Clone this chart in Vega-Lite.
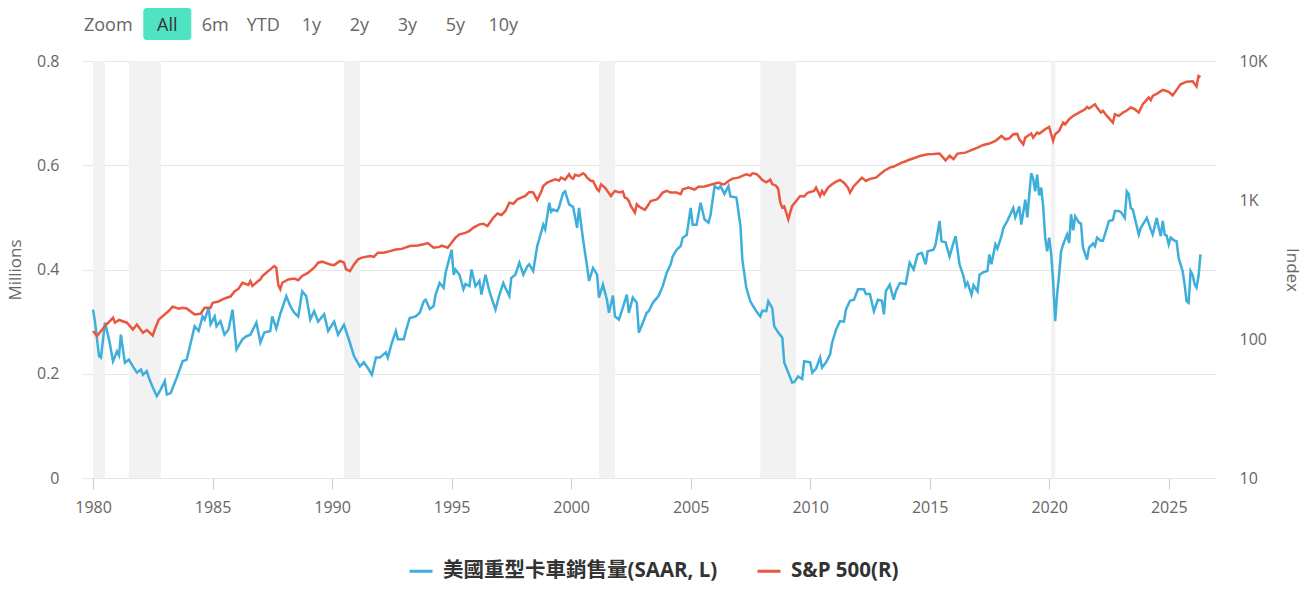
{
  "$schema": "https://vega.github.io/schema/vega-lite/v6.json",
  "background": "white",
  "padding": {"top": 8, "left": 6, "right": 10, "bottom": 10},
  "bounds": "flush",
  "spacing": 21,
  "datasets": {
    "btn": [
      {"b": "Zoom"}, {"b": "All"}, {"b": "6m"}, {"b": "YTD"}, {"b": "1y"},
      {"b": "2y"}, {"b": "3y"}, {"b": "5y"}, {"b": "10y"}
    ],
    "recess": [
      {"d": "1980-01", "e": "1980-07"},
      {"d": "1981-07", "e": "1982-11"},
      {"d": "1990-07", "e": "1991-03"},
      {"d": "2001-03", "e": "2001-11"},
      {"d": "2007-12", "e": "2009-06"},
      {"d": "2020-02", "e": "2020-04"}
    ],
    "truck": [
      {"d":"1980-01","v":0.323},{"d":"1980-02","v":0.298},{"d":"1980-04","v":0.234},{"d":"1980-05","v":0.231},
      {"d":"1980-07","v":0.298},{"d":"1980-09","v":0.266},{"d":"1980-11","v":0.224},{"d":"1981-01","v":0.243},
      {"d":"1981-02","v":0.235},{"d":"1981-03","v":0.275},{"d":"1981-05","v":0.221},{"d":"1981-07","v":0.227},
      {"d":"1981-09","v":0.214},{"d":"1981-11","v":0.202},{"d":"1982-01","v":0.208},{"d":"1982-02","v":0.198},
      {"d":"1982-04","v":0.205},{"d":"1982-05","v":0.193},{"d":"1982-07","v":0.174},{"d":"1982-09","v":0.157},
      {"d":"1982-11","v":0.170},{"d":"1983-01","v":0.186},{"d":"1983-02","v":0.160},{"d":"1983-04","v":0.163},
      {"d":"1983-07","v":0.192},{"d":"1983-10","v":0.224},{"d":"1983-12","v":0.227},{"d":"1984-02","v":0.259},
      {"d":"1984-04","v":0.291},{"d":"1984-06","v":0.282},{"d":"1984-08","v":0.310},{"d":"1984-09","v":0.304},
      {"d":"1984-11","v":0.327},{"d":"1984-12","v":0.295},{"d":"1985-02","v":0.310},{"d":"1985-03","v":0.291},
      {"d":"1985-05","v":0.301},{"d":"1985-07","v":0.275},{"d":"1985-09","v":0.285},{"d":"1985-11","v":0.323},
      {"d":"1986-01","v":0.247},{"d":"1986-04","v":0.266},{"d":"1986-06","v":0.272},{"d":"1986-08","v":0.275},
      {"d":"1986-11","v":0.298},{"d":"1987-01","v":0.260},{"d":"1987-03","v":0.279},{"d":"1987-06","v":0.282},
      {"d":"1987-07","v":0.310},{"d":"1987-09","v":0.287},{"d":"1987-11","v":0.315},{"d":"1988-02","v":0.349},
      {"d":"1988-04","v":0.330},{"d":"1988-06","v":0.317},{"d":"1988-08","v":0.310},{"d":"1988-10","v":0.358},
      {"d":"1988-12","v":0.349},{"d":"1989-02","v":0.304},{"d":"1989-04","v":0.320},{"d":"1989-06","v":0.300},
      {"d":"1989-09","v":0.314},{"d":"1989-11","v":0.282},{"d":"1990-02","v":0.300},{"d":"1990-04","v":0.275},
      {"d":"1990-07","v":0.294},{"d":"1990-10","v":0.259},{"d":"1990-12","v":0.234},{"d":"1991-03","v":0.214},
      {"d":"1991-05","v":0.222},{"d":"1991-07","v":0.211},{"d":"1991-09","v":0.198},{"d":"1991-11","v":0.231},
      {"d":"1992-01","v":0.231},{"d":"1992-04","v":0.241},{"d":"1992-05","v":0.231},{"d":"1992-07","v":0.259},
      {"d":"1992-09","v":0.282},{"d":"1992-10","v":0.266},{"d":"1993-01","v":0.266},{"d":"1993-02","v":0.282},
      {"d":"1993-04","v":0.307},{"d":"1993-07","v":0.310},{"d":"1993-09","v":0.317},{"d":"1993-11","v":0.339},
      {"d":"1993-12","v":0.342},{"d":"1994-02","v":0.324},{"d":"1994-04","v":0.330},{"d":"1994-05","v":0.352},
      {"d":"1994-07","v":0.374},{"d":"1994-09","v":0.365},{"d":"1994-10","v":0.394},{"d":"1995-01","v":0.438},
      {"d":"1995-02","v":0.390},{"d":"1995-03","v":0.400},{"d":"1995-05","v":0.390},{"d":"1995-07","v":0.362},
      {"d":"1995-08","v":0.372},{"d":"1995-10","v":0.368},{"d":"1995-11","v":0.400},{"d":"1996-01","v":0.368},
      {"d":"1996-03","v":0.378},{"d":"1996-04","v":0.352},{"d":"1996-06","v":0.390},{"d":"1996-08","v":0.358},
      {"d":"1996-11","v":0.323},{"d":"1997-01","v":0.352},{"d":"1997-03","v":0.374},{"d":"1997-04","v":0.365},
      {"d":"1997-06","v":0.349},{"d":"1997-07","v":0.384},{"d":"1997-09","v":0.390},{"d":"1997-11","v":0.413},
      {"d":"1998-01","v":0.390},{"d":"1998-03","v":0.406},{"d":"1998-04","v":0.410},{"d":"1998-06","v":0.397},
      {"d":"1998-08","v":0.445},{"d":"1998-09","v":0.458},{"d":"1998-11","v":0.486},{"d":"1998-12","v":0.477},
      {"d":"1999-02","v":0.528},{"d":"1999-03","v":0.511},{"d":"1999-04","v":0.515},{"d":"1999-06","v":0.512},
      {"d":"1999-07","v":0.520},{"d":"1999-09","v":0.547},{"d":"1999-10","v":0.550},{"d":"1999-12","v":0.525},
      {"d":"2000-02","v":0.520},{"d":"2000-04","v":0.480},{"d":"2000-05","v":0.518},{"d":"2000-07","v":0.458},
      {"d":"2000-09","v":0.406},{"d":"2000-10","v":0.378},{"d":"2000-12","v":0.403},{"d":"2001-02","v":0.390},
      {"d":"2001-03","v":0.346},{"d":"2001-05","v":0.371},{"d":"2001-07","v":0.342},{"d":"2001-08","v":0.317},
      {"d":"2001-10","v":0.350},{"d":"2001-11","v":0.310},{"d":"2002-01","v":0.304},{"d":"2002-03","v":0.327},
      {"d":"2002-05","v":0.352},{"d":"2002-06","v":0.317},{"d":"2002-08","v":0.346},{"d":"2002-10","v":0.336},
      {"d":"2002-11","v":0.279},{"d":"2003-01","v":0.298},{"d":"2003-03","v":0.317},{"d":"2003-04","v":0.320},
      {"d":"2003-06","v":0.336},{"d":"2003-08","v":0.345},{"d":"2003-09","v":0.350},{"d":"2003-11","v":0.368},
      {"d":"2004-01","v":0.394},{"d":"2004-03","v":0.410},{"d":"2004-04","v":0.425},{"d":"2004-06","v":0.438},
      {"d":"2004-08","v":0.445},{"d":"2004-09","v":0.461},{"d":"2004-11","v":0.466},{"d":"2005-01","v":0.518},
      {"d":"2005-02","v":0.486},{"d":"2005-04","v":0.486},{"d":"2005-06","v":0.528},{"d":"2005-08","v":0.496},
      {"d":"2005-10","v":0.490},{"d":"2005-11","v":0.505},{"d":"2006-01","v":0.560},{"d":"2006-03","v":0.555},
      {"d":"2006-04","v":0.560},{"d":"2006-06","v":0.545},{"d":"2006-08","v":0.560},{"d":"2006-09","v":0.540},
      {"d":"2006-12","v":0.538},{"d":"2007-02","v":0.483},{"d":"2007-03","v":0.419},{"d":"2007-05","v":0.365},
      {"d":"2007-07","v":0.339},{"d":"2007-08","v":0.332},{"d":"2007-10","v":0.320},{"d":"2007-12","v":0.310},
      {"d":"2008-01","v":0.321},{"d":"2008-03","v":0.320},{"d":"2008-04","v":0.339},{"d":"2008-06","v":0.326},
      {"d":"2008-07","v":0.291},{"d":"2008-09","v":0.279},{"d":"2008-11","v":0.269},{"d":"2008-12","v":0.221},
      {"d":"2009-02","v":0.202},{"d":"2009-04","v":0.183},{"d":"2009-05","v":0.184},{"d":"2009-07","v":0.195},
      {"d":"2009-09","v":0.190},{"d":"2009-10","v":0.224},{"d":"2010-01","v":0.222},{"d":"2010-02","v":0.202},
      {"d":"2010-04","v":0.210},{"d":"2010-06","v":0.231},{"d":"2010-07","v":0.212},{"d":"2010-09","v":0.222},
      {"d":"2010-11","v":0.237},{"d":"2010-12","v":0.259},{"d":"2011-02","v":0.285},{"d":"2011-04","v":0.301},
      {"d":"2011-06","v":0.300},{"d":"2011-07","v":0.323},{"d":"2011-09","v":0.340},{"d":"2011-11","v":0.342},
      {"d":"2012-01","v":0.362},{"d":"2012-04","v":0.362},{"d":"2012-05","v":0.353},{"d":"2012-07","v":0.353},
      {"d":"2012-09","v":0.320},{"d":"2012-11","v":0.342},{"d":"2013-01","v":0.340},{"d":"2013-02","v":0.314},
      {"d":"2013-03","v":0.358},{"d":"2013-05","v":0.371},{"d":"2013-07","v":0.342},{"d":"2013-08","v":0.358},
      {"d":"2013-10","v":0.374},{"d":"2014-01","v":0.372},{"d":"2014-03","v":0.413},{"d":"2014-05","v":0.400},
      {"d":"2014-07","v":0.429},{"d":"2014-09","v":0.432},{"d":"2014-11","v":0.410},{"d":"2014-12","v":0.435},
      {"d":"2015-03","v":0.438},{"d":"2015-04","v":0.448},{"d":"2015-06","v":0.493},{"d":"2015-07","v":0.454},
      {"d":"2015-09","v":0.452},{"d":"2015-11","v":0.425},{"d":"2016-01","v":0.452},{"d":"2016-02","v":0.464},
      {"d":"2016-04","v":0.410},{"d":"2016-06","v":0.387},{"d":"2016-07","v":0.368},{"d":"2016-08","v":0.375},
      {"d":"2016-10","v":0.352},{"d":"2016-11","v":0.370},{"d":"2017-01","v":0.358},{"d":"2017-02","v":0.390},
      {"d":"2017-04","v":0.395},{"d":"2017-06","v":0.397},{"d":"2017-07","v":0.429},{"d":"2017-08","v":0.410},
      {"d":"2017-10","v":0.448},{"d":"2017-11","v":0.440},{"d":"2018-01","v":0.464},{"d":"2018-02","v":0.480},
      {"d":"2018-04","v":0.493},{"d":"2018-07","v":0.518},{"d":"2018-08","v":0.500},{"d":"2018-10","v":0.521},
      {"d":"2018-11","v":0.486},{"d":"2019-01","v":0.534},{"d":"2019-02","v":0.500},{"d":"2019-04","v":0.585},
      {"d":"2019-05","v":0.574},{"d":"2019-06","v":0.550},{"d":"2019-07","v":0.582},{"d":"2019-08","v":0.542},
      {"d":"2019-09","v":0.557},{"d":"2019-10","v":0.521},{"d":"2019-11","v":0.461},{"d":"2019-12","v":0.435},
      {"d":"2020-01","v":0.461},{"d":"2020-02","v":0.429},{"d":"2020-03","v":0.378},{"d":"2020-04","v":0.301},
      {"d":"2020-05","v":0.352},{"d":"2020-06","v":0.390},{"d":"2020-07","v":0.435},{"d":"2020-08","v":0.448},
      {"d":"2020-10","v":0.467},{"d":"2020-11","v":0.451},{"d":"2020-12","v":0.506},{"d":"2021-01","v":0.475},
      {"d":"2021-02","v":0.502},{"d":"2021-04","v":0.490},{"d":"2021-05","v":0.488},{"d":"2021-06","v":0.442},
      {"d":"2021-08","v":0.419},{"d":"2021-09","v":0.442},{"d":"2021-11","v":0.450},{"d":"2021-12","v":0.445},
      {"d":"2022-01","v":0.461},{"d":"2022-03","v":0.455},{"d":"2022-04","v":0.455},{"d":"2022-06","v":0.480},
      {"d":"2022-07","v":0.493},{"d":"2022-09","v":0.495},{"d":"2022-10","v":0.512},{"d":"2022-12","v":0.512},
      {"d":"2023-01","v":0.510},{"d":"2023-03","v":0.499},{"d":"2023-04","v":0.550},{"d":"2023-05","v":0.545},
      {"d":"2023-06","v":0.518},{"d":"2023-07","v":0.515},{"d":"2023-08","v":0.499},{"d":"2023-10","v":0.467},
      {"d":"2023-11","v":0.480},{"d":"2024-02","v":0.499},{"d":"2024-04","v":0.477},{"d":"2024-05","v":0.467},
      {"d":"2024-07","v":0.499},{"d":"2024-08","v":0.480},{"d":"2024-09","v":0.464},{"d":"2024-10","v":0.493},
      {"d":"2024-11","v":0.467},{"d":"2024-12","v":0.465},{"d":"2025-01","v":0.448},{"d":"2025-02","v":0.461},
      {"d":"2025-04","v":0.455},{"d":"2025-05","v":0.454},{"d":"2025-06","v":0.422},{"d":"2025-08","v":0.397},
      {"d":"2025-09","v":0.371},{"d":"2025-10","v":0.339},{"d":"2025-11","v":0.336},{"d":"2025-12","v":0.397},
      {"d":"2026-01","v":0.390},{"d":"2026-02","v":0.371},{"d":"2026-03","v":0.365},{"d":"2026-04","v":0.387},
      {"d":"2026-05","v":0.429}
    ],
    "sp": [
      {"d":"1980-01","v":114},{"d":"1980-03","v":105},{"d":"1980-07","v":124},{"d":"1980-11","v":142},
      {"d":"1980-12","v":131},{"d":"1981-02","v":137},{"d":"1981-06","v":131},{"d":"1981-09","v":117},
      {"d":"1981-11","v":127},{"d":"1982-02","v":111},{"d":"1982-04","v":116},{"d":"1982-07","v":106},
      {"d":"1982-08","v":117},{"d":"1982-10","v":138},{"d":"1982-12","v":146},{"d":"1983-03","v":159},
      {"d":"1983-05","v":171},{"d":"1983-08","v":165},{"d":"1983-10","v":168},{"d":"1983-12","v":166},
      {"d":"1984-04","v":150},{"d":"1984-07","v":152},{"d":"1984-09","v":168},{"d":"1984-12","v":168},
      {"d":"1985-01","v":182},{"d":"1985-04","v":186},{"d":"1985-06","v":193},{"d":"1985-08","v":198},
      {"d":"1985-10","v":202},{"d":"1985-12","v":220},{"d":"1986-02","v":230},{"d":"1986-04","v":254},
      {"d":"1986-07","v":245},{"d":"1986-08","v":261},{"d":"1986-09","v":241},{"d":"1986-12","v":262},
      {"d":"1987-01","v":268},{"d":"1987-02","v":284},{"d":"1987-04","v":300},{"d":"1987-06","v":317},
      {"d":"1987-08","v":335},{"d":"1987-09","v":326},{"d":"1987-10","v":245},{"d":"1987-11","v":228},
      {"d":"1987-12","v":254},{"d":"1988-03","v":268},{"d":"1988-06","v":272},{"d":"1988-08","v":265},
      {"d":"1988-10","v":284},{"d":"1989-01","v":300},{"d":"1989-04","v":326},{"d":"1989-06","v":354},
      {"d":"1989-08","v":360},{"d":"1989-12","v":344},{"d":"1990-02","v":340},{"d":"1990-05","v":364},
      {"d":"1990-07","v":355},{"d":"1990-08","v":317},{"d":"1990-10","v":308},{"d":"1990-12","v":344},
      {"d":"1991-02","v":374},{"d":"1991-04","v":385},{"d":"1991-08","v":395},{"d":"1991-10","v":390},
      {"d":"1991-12","v":418},{"d":"1992-03","v":418},{"d":"1992-06","v":429},{"d":"1992-09","v":441},
      {"d":"1992-12","v":445},{"d":"1993-04","v":467},{"d":"1993-08","v":470},{"d":"1993-11","v":480},
      {"d":"1994-01","v":490},{"d":"1994-04","v":454},{"d":"1994-07","v":460},{"d":"1994-08","v":470},
      {"d":"1994-11","v":454},{"d":"1995-01","v":493},{"d":"1995-03","v":536},{"d":"1995-05","v":566},
      {"d":"1995-08","v":580},{"d":"1995-10","v":600},{"d":"1995-12","v":633},{"d":"1996-03","v":668},
      {"d":"1996-05","v":675},{"d":"1996-07","v":650},{"d":"1996-10","v":747},{"d":"1996-12","v":800},
      {"d":"1997-02","v":780},{"d":"1997-04","v":834},{"d":"1997-06","v":957},{"d":"1997-08","v":940},
      {"d":"1997-10","v":1011},{"d":"1997-12","v":1040},{"d":"1998-02","v":1069},{"d":"1998-04","v":1142},
      {"d":"1998-06","v":1135},{"d":"1998-08","v":1000},{"d":"1998-09","v":1069},{"d":"1998-10","v":1150},
      {"d":"1998-11","v":1262},{"d":"1999-01","v":1334},{"d":"1999-03","v":1371},{"d":"1999-05","v":1409},
      {"d":"1999-07","v":1380},{"d":"1999-08","v":1449},{"d":"1999-10","v":1400},{"d":"1999-12","v":1531},
      {"d":"2000-01","v":1449},{"d":"2000-02","v":1420},{"d":"2000-03","v":1520},{"d":"2000-05","v":1489},
      {"d":"2000-07","v":1556},{"d":"2000-08","v":1520},{"d":"2000-09","v":1449},{"d":"2000-11","v":1371},
      {"d":"2000-12","v":1371},{"d":"2001-02","v":1194},{"d":"2001-03","v":1160},{"d":"2001-04","v":1297},
      {"d":"2001-06","v":1228},{"d":"2001-09","v":1069},{"d":"2001-10","v":1120},{"d":"2001-11","v":1162},
      {"d":"2002-01","v":1135},{"d":"2002-03","v":1150},{"d":"2002-04","v":1040},{"d":"2002-05","v":1030},
      {"d":"2002-06","v":984},{"d":"2002-07","v":906},{"d":"2002-09","v":811},{"d":"2002-10","v":931},
      {"d":"2002-11","v":900},{"d":"2002-12","v":880},{"d":"2003-02","v":850},{"d":"2003-04","v":931},
      {"d":"2003-05","v":984},{"d":"2003-08","v":1011},{"d":"2003-09","v":1040},{"d":"2003-11","v":1130},
      {"d":"2004-01","v":1162},{"d":"2004-03","v":1130},{"d":"2004-06","v":1130},{"d":"2004-08","v":1100},
      {"d":"2004-09","v":1194},{"d":"2004-12","v":1228},{"d":"2005-03","v":1190},{"d":"2005-05","v":1245},
      {"d":"2005-08","v":1250},{"d":"2005-12","v":1297},{"d":"2006-03","v":1334},{"d":"2006-05","v":1300},
      {"d":"2006-06","v":1297},{"d":"2006-08","v":1371},{"d":"2006-10","v":1425},{"d":"2007-01","v":1449},
      {"d":"2007-03","v":1489},{"d":"2007-05","v":1531},{"d":"2007-07","v":1500},{"d":"2007-08","v":1556},
      {"d":"2007-10","v":1540},{"d":"2007-12","v":1449},{"d":"2008-01","v":1390},{"d":"2008-03","v":1340},
      {"d":"2008-05","v":1400},{"d":"2008-06","v":1300},{"d":"2008-08","v":1262},{"d":"2008-09","v":1194},
      {"d":"2008-10","v":957},{"d":"2008-11","v":881},{"d":"2008-12","v":900},{"d":"2009-02","v":726},
      {"d":"2009-03","v":811},{"d":"2009-04","v":906},{"d":"2009-06","v":984},{"d":"2009-08","v":1069},
      {"d":"2009-10","v":1060},{"d":"2009-11","v":1103},{"d":"2009-12","v":1130},{"d":"2010-03","v":1162},
      {"d":"2010-04","v":1228},{"d":"2010-06","v":1069},{"d":"2010-07","v":1162},{"d":"2010-08","v":1100},
      {"d":"2010-10","v":1228},{"d":"2010-12","v":1297},{"d":"2011-02","v":1356},{"d":"2011-04","v":1393},
      {"d":"2011-06","v":1334},{"d":"2011-08","v":1228},{"d":"2011-09","v":1130},{"d":"2011-11","v":1262},
      {"d":"2012-03","v":1449},{"d":"2012-05","v":1371},{"d":"2012-07","v":1420},{"d":"2012-10","v":1449},
      {"d":"2013-02","v":1618},{"d":"2013-05","v":1711},{"d":"2013-07","v":1740},{"d":"2013-11","v":1858},
      {"d":"2014-01","v":1900},{"d":"2014-02","v":1931},{"d":"2014-05","v":1995},{"d":"2014-08","v":2073},
      {"d":"2014-12","v":2131},{"d":"2015-03","v":2140},{"d":"2015-06","v":2156},{"d":"2015-09","v":1931},
      {"d":"2015-11","v":2080},{"d":"2016-01","v":1964},{"d":"2016-03","v":2156},{"d":"2016-07","v":2192},
      {"d":"2016-09","v":2254},{"d":"2017-01","v":2384},{"d":"2017-04","v":2489},{"d":"2017-07","v":2547},
      {"d":"2017-10","v":2661},{"d":"2018-01","v":2891},{"d":"2018-03","v":2735},{"d":"2018-05","v":2780},
      {"d":"2018-07","v":2972},{"d":"2018-09","v":2990},{"d":"2018-10","v":2735},{"d":"2018-12","v":2518},
      {"d":"2019-01","v":2812},{"d":"2019-04","v":3006},{"d":"2019-05","v":2812},{"d":"2019-07","v":3055},
      {"d":"2019-08","v":3000},{"d":"2019-11","v":3228},{"d":"2020-01","v":3355},{"d":"2020-02","v":2972},
      {"d":"2020-03","v":2661},{"d":"2020-04","v":2972},{"d":"2020-06","v":3141},{"d":"2020-08","v":3606},
      {"d":"2020-09","v":3500},{"d":"2020-11","v":3811},{"d":"2021-01","v":4027},{"d":"2021-04","v":4256},
      {"d":"2021-07","v":4498},{"d":"2021-08","v":4677},{"d":"2021-09","v":4550},{"d":"2021-12","v":4887},
      {"d":"2022-01","v":4625},{"d":"2022-03","v":4256},{"d":"2022-04","v":4380},{"d":"2022-06","v":4027},
      {"d":"2022-09","v":3606},{"d":"2022-10","v":4140},{"d":"2022-12","v":4027},{"d":"2023-02","v":4256},
      {"d":"2023-04","v":4400},{"d":"2023-06","v":4625},{"d":"2023-08","v":4500},{"d":"2023-10","v":4256},
      {"d":"2023-12","v":4887},{"d":"2024-03","v":5458},{"d":"2024-04","v":5224},{"d":"2024-05","v":5610},
      {"d":"2024-07","v":5800},{"d":"2024-10","v":6200},{"d":"2025-01","v":6000},{"d":"2025-03","v":5650},
      {"d":"2025-05","v":6200},{"d":"2025-07","v":6800},{"d":"2025-10","v":7100},{"d":"2026-01","v":7150},
      {"d":"2026-03","v":6550},{"d":"2026-04","v":7800},{"d":"2026-05","v":7650}
    ]
  },
  "vconcat": [
    {
      "data": {"name": "btn"},
      "width": {"step": 48},
      "height": 32,
      "encoding": {
        "x": {
          "field": "b",
          "type": "nominal",
          "axis": null,
          "scale": {
            "domain": ["Zoom", "All", "6m", "YTD", "1y", "2y", "3y", "5y", "10y"],
            "paddingInner": 0,
            "paddingOuter": 0.277
          }
        }
      },
      "layer": [
        {
          "transform": [{"filter": "datum.b === 'All'"}],
          "mark": {"type": "rect", "color": "#50e3c2", "cornerRadius": 3}
        },
        {
          "transform": [{"filter": "datum.b === 'Zoom'"}],
          "mark": {"type": "text", "fontSize": 18, "color": "#666666", "dx": -11, "dy": 2},
          "encoding": {"text": {"field": "b"}}
        },
        {
          "transform": [{"filter": "datum.b !== 'Zoom'"}],
          "mark": {"type": "text", "fontSize": 18, "dy": 2},
          "encoding": {
            "text": {"field": "b"},
            "color": {"condition": {"test": "datum.b === 'All'", "value": "#333333"}, "value": "#666666"}
          }
        }
      ]
    },
    {
      "width": 1134,
      "height": 417,
      "encoding": {
        "x": {
          "field": "d",
          "type": "temporal",
          "scale": {
            "domain": [
              {"year": 1979, "month": 7, "date": 16},
              {"year": 2026, "month": 12, "date": 24}
            ]
          },
          "axis": {
            "title": null,
            "format": "%Y",
            "tickCount": {"interval": "year", "step": 5},
            "grid": false,
            "domain": false,
            "ticks": true,
            "tickColor": "#cccccc",
            "tickSize": 11,
            "labelPadding": 10,
            "labelFlush": false,
            "labelOverlap": false
          }
        }
      },
      "layer": [
        {
          "data": {"name": "recess"},
          "mark": {"type": "rect", "color": "#f2f2f2"},
          "encoding": {"x2": {"field": "e"}}
        },
        {
          "data": {"name": "truck"},
          "mark": {"type": "line", "strokeWidth": 2.5},
          "encoding": {
            "y": {
              "field": "v",
              "type": "quantitative",
              "scale": {"domain": [0, 0.8]},
              "axis": {
                "orient": "left",
                "title": "Millions",
                "values": [0, 0.2, 0.4, 0.6, 0.8],
                "format": "~g",
                "grid": true,
                "gridColor": "#e6e6e6",
                "domain": false,
                "ticks": false,
                "labelPadding": 23,
                "titlePadding": 12
              }
            },
            "color": {
              "datum": "美國重型卡車銷售量(SAAR, L)",
              "scale": {
                "domain": ["美國重型卡車銷售量(SAAR, L)", "S&P 500(R)"],
                "range": ["#3eaedb", "#e9573f"]
              },
              "legend": {
                "title": null,
                "orient": "bottom",
                "direction": "horizontal",
                "symbolType": "stroke",
                "symbolSize": 529,
                "symbolStrokeWidth": 3,
                "labelFontSize": 20.5,
                "labelFontWeight": "bold",
                "labelColor": "#333333",
                "labelOffset": 9,
                "labelLimit": 600,
                "columnPadding": 33,
                "offset": 43
              }
            }
          }
        },
        {
          "data": {"name": "sp"},
          "mark": {"type": "line", "strokeWidth": 2.5},
          "encoding": {
            "y": {
              "field": "v",
              "type": "quantitative",
              "scale": {"type": "log", "domain": [10, 10000]},
              "axis": {
                "orient": "right",
                "title": "Index",
                "values": [10, 100, 1000, 10000],
                "labelExpr": "datum.value >= 1000 ? (datum.value / 1000) + 'K' : datum.value + ''",
                "grid": false,
                "domain": false,
                "ticks": false,
                "labelPadding": 23,
                "titlePadding": 15
              }
            },
            "color": {"datum": "S&P 500(R)"}
          }
        }
      ],
      "resolve": {"scale": {"y": "independent"}}
    }
  ],
  "config": {
    "view": {"stroke": null},
    "font": "Open Sans, Noto Sans CJK TC",
    "axis": {
      "labelColor": "#666666",
      "titleColor": "#666666",
      "labelFontSize": 16,
      "titleFontSize": 17,
      "titleFontWeight": "normal"
    },
    "legend": {"layout": {"bottom": {"anchor": "middle"}}}
  }
}
